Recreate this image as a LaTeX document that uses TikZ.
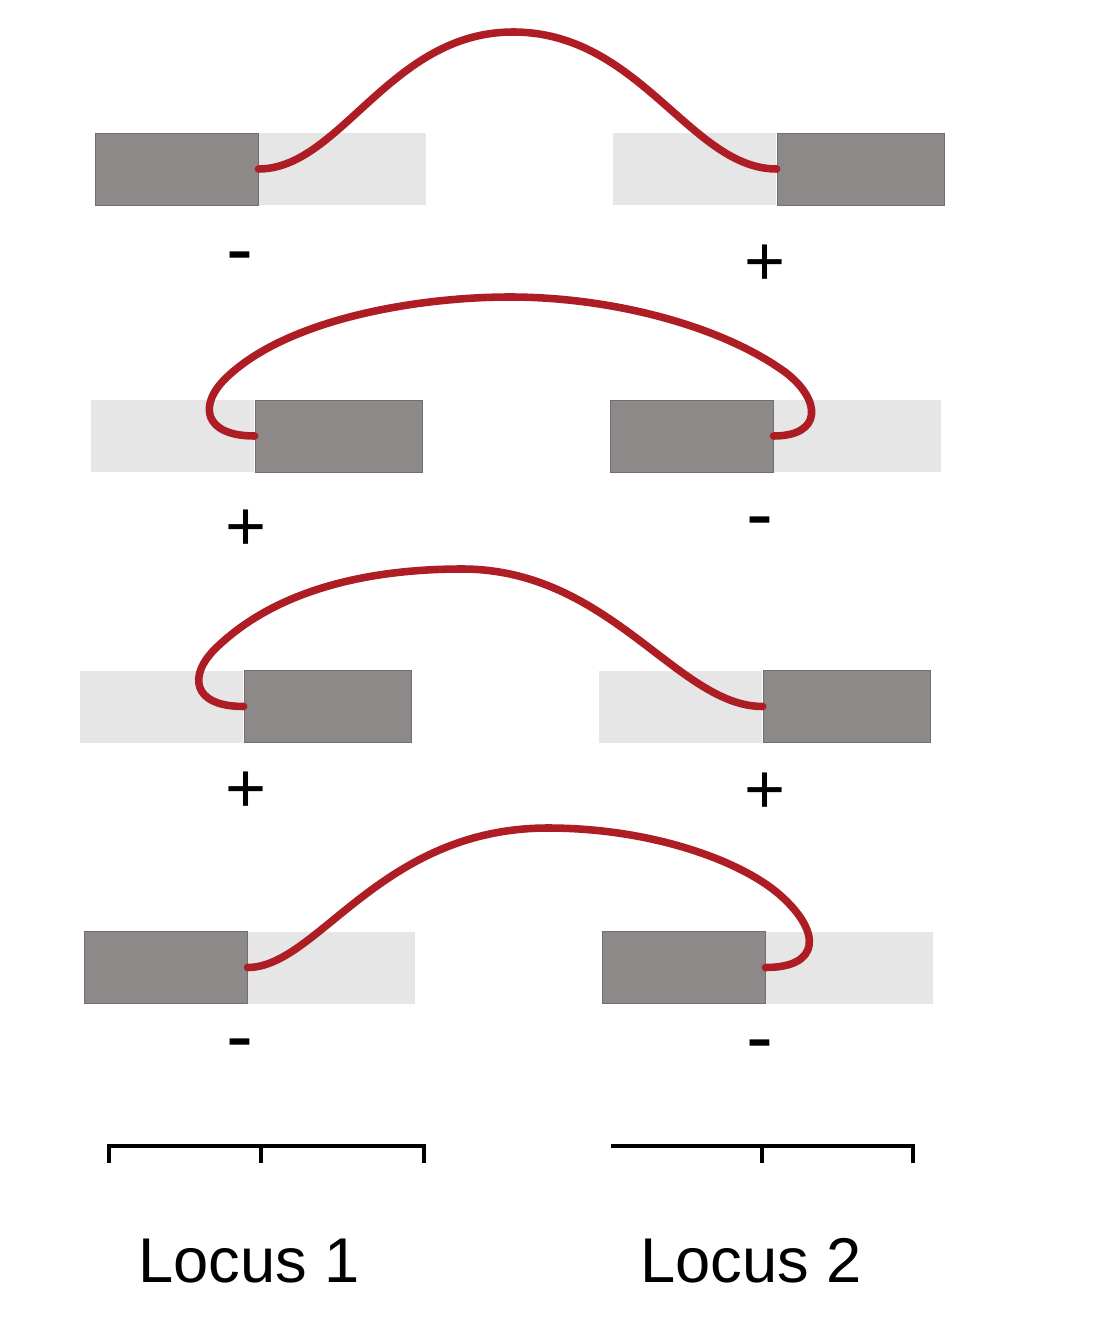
\documentclass[tikz,border=0pt]{standalone}
\usepackage{fontspec}
\setmainfont{Liberation Sans}
\usetikzlibrary{positioning}
\definecolor{armgray}{HTML}{8D8988}
\definecolor{flankgray}{HTML}{E6E6E6}
\definecolor{loopred}{HTML}{AE1C24}

\begin{document}
\begin{tikzpicture}[
    x=0.02cm, y=-0.02cm,
    part/.style={rectangle, minimum height=1.44cm, inner sep=0pt, anchor=west},
    arm/.style={part, fill=armgray, draw=armgray!80!black, line width=0.3pt},
    flank/.style={part, fill=flankgray},
    narrowpart/.style={minimum width=3.26cm},
    widepart/.style={minimum width=3.34cm},
    link/.style={draw=loopred, line width=4.3pt, line cap=round},
    bar/.style={line width=2.2pt},
    sign/.style={anchor=base, inner sep=0pt},
    plussign/.style={sign, font=\fontsize{40}{48}\selectfont},
    minussign/.style={sign, font=\fontsize{46}{54}\selectfont},
    locus/.style={anchor=base, inner sep=0pt, font=\fontsize{36}{43}\selectfont}
]
    \useasboundingbox (0,0) rectangle (1116,1324);

    % Blocks
    \node[arm, narrowpart] (d1L) at (95,169) {};
    \node[flank, widepart, right=0pt of d1L] (f1L) {};
    \node[flank, narrowpart] (f1R) at (613,169) {};
    \node[arm, widepart, right=0pt of f1R] (d1R) {};

    \node[flank, narrowpart] (f2L) at (91,436) {};
    \node[arm, widepart, right=0pt of f2L] (d2L) {};
    \node[arm, narrowpart] (d2R) at (610,436) {};
    \node[flank, widepart, right=0pt of d2R] (f2R) {};

    \node[flank, narrowpart] (f3L) at (80,706.5) {};
    \node[arm, widepart, right=0pt of f3L] (d3L) {};
    \node[flank, narrowpart] (f3R) at (599,706.5) {};
    \node[arm, widepart, right=0pt of f3R] (d3R) {};

    \node[arm, narrowpart] (d4L) at (84,967.5) {};
    \node[flank, widepart, right=0pt of d4L] (f4L) {};
    \node[arm, narrowpart] (d4R) at (602,967.5) {};
    \node[flank, widepart, right=0pt of d4R] (f4R) {};

    % Links
    \draw[link] (d1L.east) .. controls +(82,0) and +(-123,0) .. (513,32)
        .. controls +(127,0) and +(-86,0) .. (d1R.west);
    \draw[link] (d2L.west) .. controls +(-51,0) and (198,405) .. (226,378)
        .. controls (288,318) and (420,297) .. (510,297)
        .. controls (610,297) and (720,325) .. (785,372)
        .. controls (822,400) and +(49,0) .. (d2R.east);
    \draw[link] (d3L.west) .. controls +(-52,0) and (188,675) .. (216,648)
        .. controls (278,588) and (372,569) .. (462,569)
        .. controls (610,569) and +(-85,0) .. (d3R.west);
    \draw[link] (d4L.east) .. controls +(70,0) and +(-168,0) .. (548,828)
        .. controls +(102,0) and (740,860) .. (780,895)
        .. controls (822,932) and +(55,0) .. (d4R.east);

    % Signs
    \node[minussign] (s1L) at (240,276) {-};
    \node[plussign] (s1R) at (765,286) {+};
    \node[plussign] (s2L) at (246,550) {+};
    \node[minussign] (s2R) at (760,541) {-};
    \node[plussign] (s3L) at (246,812) {+};
    \node[plussign] (s3R) at (765,813) {+};
    \node[minussign] (s4L) at (240,1063) {-};
    \node[minussign] (s4R) at (760,1064) {-};

    % Scale bars
    \draw[bar] (109,1163) -- (109,1146) -- (424,1146) -- (424,1163);
    \draw[bar] (611,1146) -- (913,1146) -- (913,1163);
    \foreach \t in {261,762}
        \draw[bar] (\t,1146) -- (\t,1163);

    \node[locus] (loc1) at (249,1282) {Locus 1};
    \node[locus] (loc2) at (751,1282) {Locus 2};
\end{tikzpicture}
\end{document}
